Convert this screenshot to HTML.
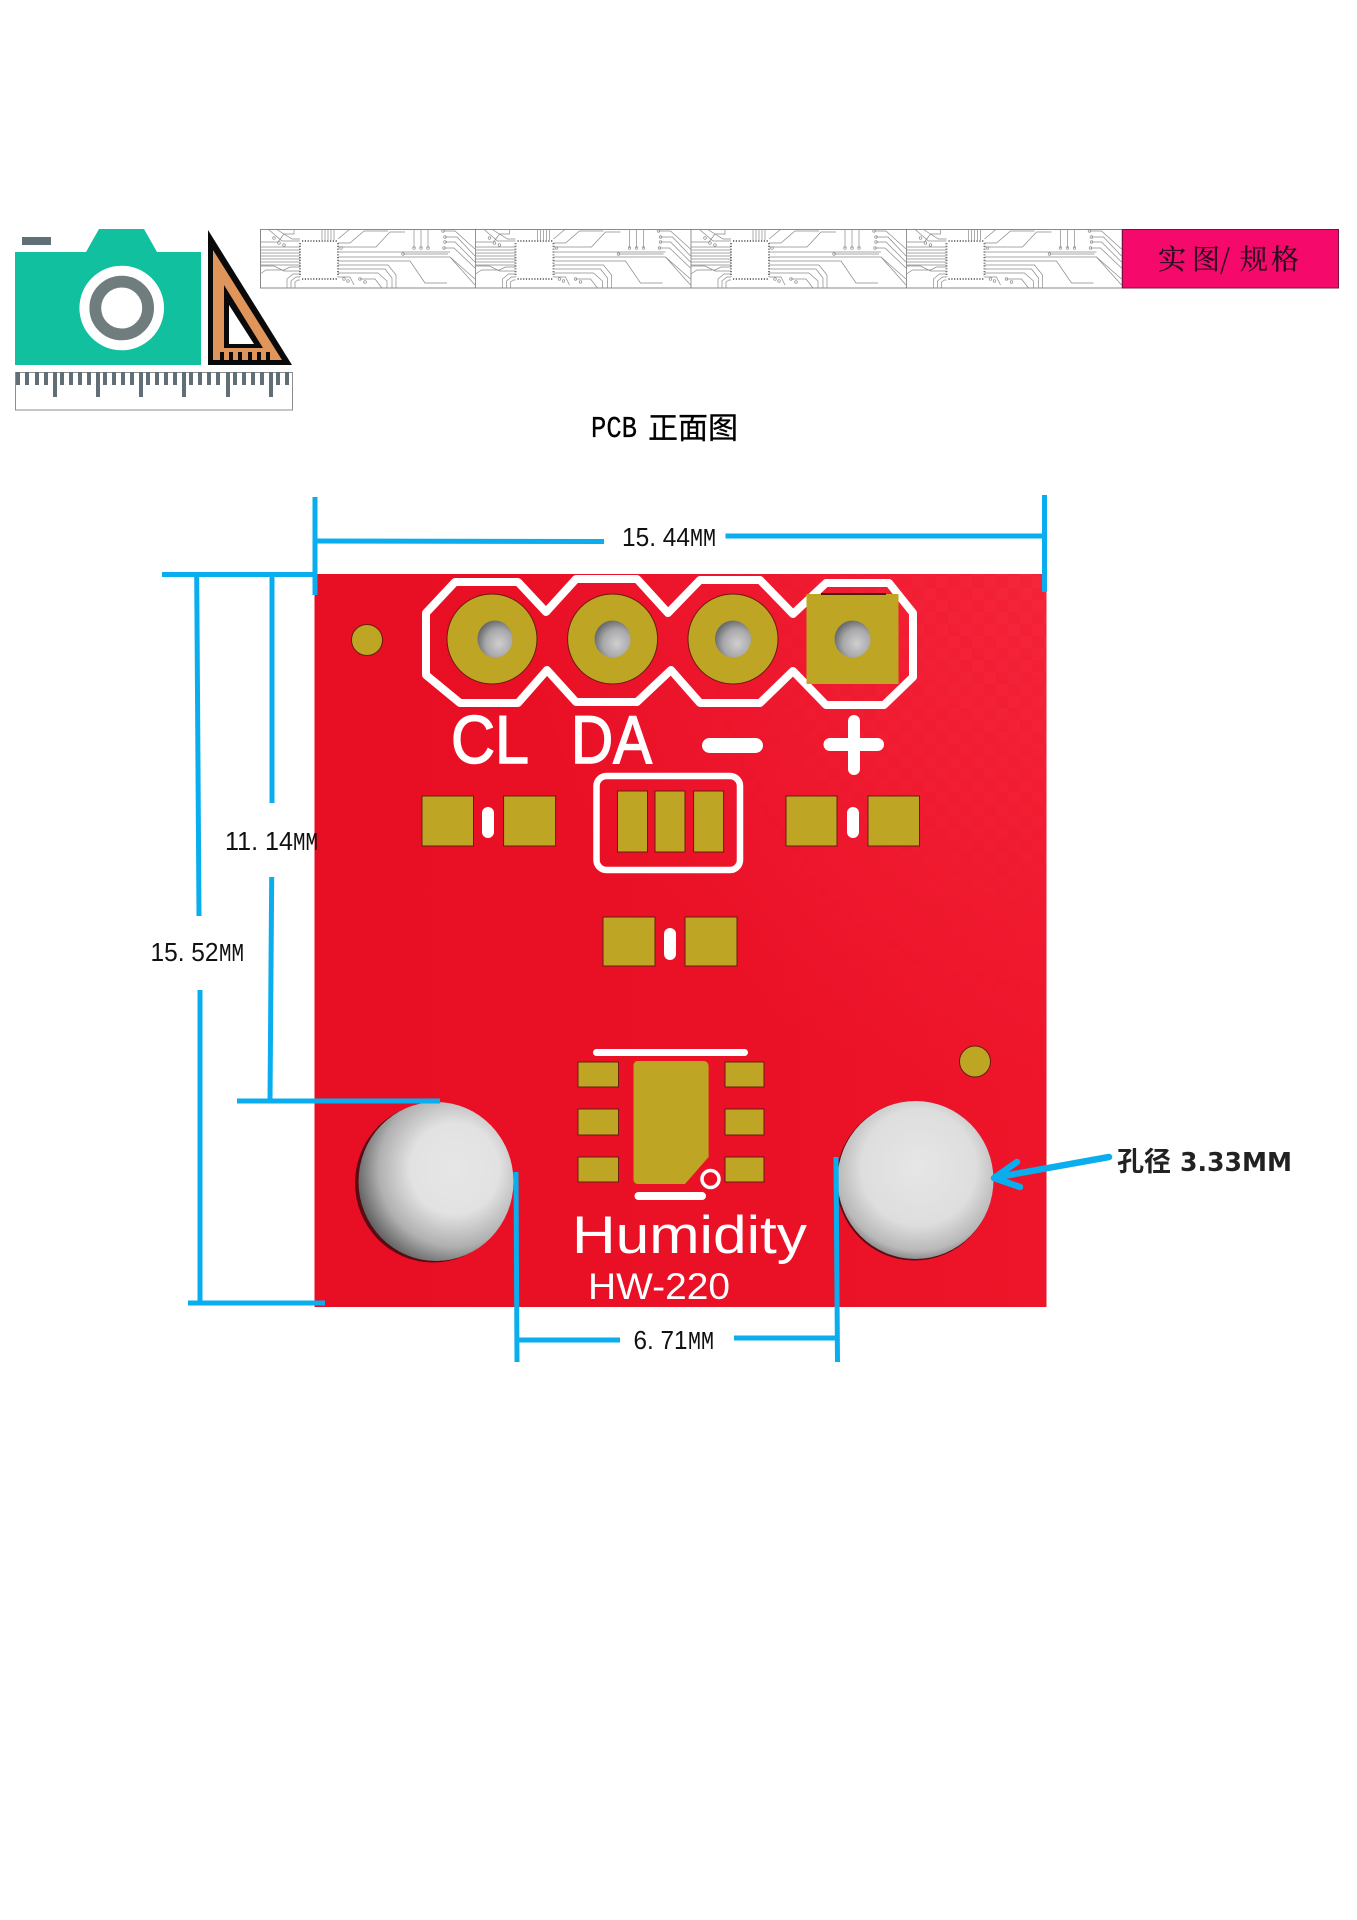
<!DOCTYPE html>
<html><head><meta charset="utf-8"><style>
html,body{margin:0;padding:0;background:#fff}
svg{display:block}
text{white-space:pre}
.dim{font-family:"Liberation Sans","Noto Sans CJK SC",sans-serif;font-size:26px;fill:#111}
.mm{font-family:"Liberation Mono",monospace;font-size:26px;fill:#111}
.silk{font-family:"Liberation Sans",sans-serif;fill:#fff}
</style></head><body>
<svg xmlns="http://www.w3.org/2000/svg" width="1357" height="1920" viewBox="0 0 1357 1920">
<defs>
<linearGradient id="pcb" x1="0" y1="0" x2="1" y2="0">
<stop offset="0" stop-color="#E80F24"/><stop offset=".6" stop-color="#EA1026"/><stop offset="1" stop-color="#EE1429"/>
</linearGradient>
<radialGradient id="glow" cx="1" cy="0" r=".75">
<stop offset="0" stop-color="#ff3a50" stop-opacity=".38"/><stop offset="1" stop-color="#ff3a50" stop-opacity="0"/>
</radialGradient>
<pattern id="chk" width="24" height="24" patternUnits="userSpaceOnUse">
<rect width="12" height="12" fill="#ff4458" opacity=".12"/><rect x="12" y="12" width="12" height="12" fill="#ff4458" opacity=".12"/>
</pattern>
<radialGradient id="fadeG" cx="1" cy="0" r=".95">
<stop offset="0" stop-color="#fff"/><stop offset=".6" stop-color="#888"/><stop offset="1" stop-color="#000"/>
</radialGradient>
<mask id="fade" maskUnits="userSpaceOnUse" x="680" y="574" width="367" height="450"><rect x="680" y="574" width="367" height="450" fill="url(#fadeG)"/></mask>
<radialGradient id="hole" cx=".62" cy=".42" r=".68">
<stop offset="0" stop-color="#e6e6e6"/><stop offset=".42" stop-color="#e2e2e2"/><stop offset=".72" stop-color="#b0b0b0"/><stop offset="1" stop-color="#4e4e4e"/>
</radialGradient>
<radialGradient id="hole2" cx=".52" cy=".42" r=".63">
<stop offset="0" stop-color="#e6e6e6"/><stop offset=".58" stop-color="#dedede"/><stop offset=".84" stop-color="#b8b8b8"/><stop offset="1" stop-color="#666"/>
</radialGradient>
<radialGradient id="drill" cx=".62" cy=".62" r=".65">
<stop offset="0" stop-color="#cfcfcf"/><stop offset=".6" stop-color="#a8a8aa"/><stop offset="1" stop-color="#66686a"/>
</radialGradient>
<g id="tile" fill="none" stroke="#8a8a8a" stroke-width=".7">
<path d="M0 18H40M0 21H40M0 24H40M0 27H40M0 30H40M0 33H40M0 36H40M0 13H18L24 5H34V0M8 0L22 12H40M16 0L32 10H40M0 37H14L24 42H40M0 45L6 41H24L30 38H40"/>
<path d="M27 59V50L33 45H40M31 59V52L36 48H40M35 59V53L38 51H40M62 0V11M65 0V11M68 0V11M71 0V11M74 0V11"/>
<path d="M78 18H116L130 3H145M78 14H90L104 2H128M78 10L90 0M78 23H190M78 28H190L215 56M78 32H150L165 54H187M78 36H128L136 46V59M78 40H125L132 49V59M78 44H118L127 52V59M78 48H90L94 56M100 50H115L122 59"/>
<path d="M154 0V19M161 0V19M168 0V19M143 25H188M183 2H195L215 20M185 8H197L215 27M185 13H195L215 33M184 19H194L215 39M190 28L215 50"/>
<path d="M215.500 0V59" stroke="#666"/>
<path d="M42 12h36M42 50h36M40 14v34M78 14v34" stroke="#777" stroke-width="2" stroke-dasharray="1.200 1.600"/>
<circle cx="14" cy="9" r="1.300"/><circle cx="19" cy="14" r="1.300"/><circle cx="24" cy="16" r="1.300"/><circle cx="154" cy="19" r="1.300"/><circle cx="161" cy="19" r="1.300"/><circle cx="168" cy="19" r="1.300"/><circle cx="143" cy="25" r="1.300"/><circle cx="183" cy="2" r="1.300"/><circle cx="185" cy="8" r="1.300"/><circle cx="185" cy="13" r="1.300"/><circle cx="184" cy="19" r="1.300"/><circle cx="81" cy="19" r="1.300"/><circle cx="84" cy="50" r="1.300"/><circle cx="88" cy="52" r="1.300"/><circle cx="100" cy="50" r="1.300"/><circle cx="105" cy="53" r="1.300"/>
</g>
</defs>

<!-- camera -->
<rect x="22" y="237" width="29" height="8" fill="#5F7077"/>
<path d="M15 252H86L99 229H144L157 252H201V365H15Z" fill="#10C09E"/>
<circle cx="121.700" cy="308" r="42.300" fill="#fff"/>
<circle cx="121.700" cy="308" r="26.400" fill="none" stroke="#6F7D7E" stroke-width="11.800"/>

<!-- set square -->
<path d="M208 230L292 365H208Z" fill="#0a0a0a"/>
<path d="M213 250L282 360H213Z" fill="#E0965A"/>
<path d="M224 285L263 348H224Z" fill="#0a0a0a"/>
<path d="M229 305L254 344H229Z" fill="#fff"/>
<path d="M222 352V361M231 352V361M240 352V361M250 352V361M259 352V361M268 352V361" stroke="#0a0a0a" stroke-width="4"/>

<!-- ruler -->
<rect x="15.500" y="372.500" width="277" height="37.500" fill="#fff" stroke="#8c8c8c"/>
<path d="M18 372V385M27 372V385M37 372V385M46 372V385M62 372V385M71 372V385M80 372V385M89 372V385M105 372V385M114 372V385M123 372V385M132 372V385M148 372V385M157 372V385M166 372V385M175 372V385M191 372V385M200 372V385M209 372V385M218 372V385M235 372V385M244 372V385M253 372V385M262 372V385M278 372V385M287 372V385" stroke="#5f6f75" stroke-width="4"/>
<path d="M55 372V397M98 372V397M141 372V397M184 372V397M228 372V397M271 372V397" stroke="#5f6f75" stroke-width="4"/>

<!-- circuit strip -->
<rect x="260.500" y="229.500" width="862" height="58.500" fill="#fff" stroke="#8a8a8a"/>
<use href="#tile" x="260" y="229"/><use href="#tile" x="475.500" y="229"/><use href="#tile" x="691" y="229"/><use href="#tile" x="906.500" y="229"/>
<rect x="1122.500" y="229.500" width="216" height="58.500" fill="#F5096B" stroke="#7a1040"/>
<text y="269" x="1158 1192 1220 1240 1271" font-family="'Noto Serif CJK SC','Liberation Serif',serif" font-size="28" fill="#2c0a22" stroke="#2c0a22" stroke-width=".3">实图/规格</text>

<!-- title -->
<text x="591" y="437" font-family="'Liberation Mono',monospace" font-size="31" fill="#000" stroke="#000" stroke-width=".3" textLength="46" lengthAdjust="spacingAndGlyphs">PCB</text>
<text x="648" y="438.500" font-family="'Liberation Sans','Noto Sans CJK SC',sans-serif" font-size="30" fill="#000" stroke="#000" stroke-width=".3">正面图</text>

<!-- PCB -->
<rect x="314.500" y="574" width="732" height="733" fill="url(#pcb)"/>
<rect x="314.500" y="574" width="732" height="733" fill="url(#glow)"/>
<rect x="680" y="574" width="366.500" height="450" fill="url(#chk)" mask="url(#fade)"/>

<path d="M426 613L455 582H518L546 612L576 579H637L668 613L700 580H760L793 614L826 583H889L913 613V677L884 705H826L793 671L760 703H700L671 670L637 702H576L547 670L518 703H460L426 675Z" fill="none" stroke="#fff" stroke-width="8" stroke-linejoin="round"/>

<g fill="#BFA524" stroke="#6a1a10" stroke-width="1">
<circle cx="492" cy="639" r="45"/><circle cx="612.600" cy="639" r="45"/><circle cx="733" cy="639" r="45"/>
<rect x="806.500" y="594" width="92" height="90" stroke="none"/>
<circle cx="367" cy="640" r="15.500"/><circle cx="975" cy="1061.500" r="15.500"/>
<rect x="422" y="796" width="51.500" height="50"/><rect x="503.600" y="796" width="52" height="50"/>
<rect x="786" y="796" width="51" height="50"/><rect x="868" y="796" width="51.500" height="50"/>
<rect x="617.500" y="791" width="30" height="61"/><rect x="655" y="791" width="30" height="61"/><rect x="693.600" y="791" width="30" height="61"/>
<rect x="603" y="917" width="52" height="49"/><rect x="685" y="917" width="52" height="49"/>
<rect x="578" y="1062" width="40.500" height="25"/><rect x="578" y="1109" width="40.500" height="26"/><rect x="578" y="1157" width="40.500" height="25"/>
<rect x="725" y="1062" width="39" height="25"/><rect x="725" y="1109" width="39" height="26"/><rect x="725" y="1157" width="39" height="25"/>
</g>
<path d="M821 594H886" stroke="#4a1a10" stroke-width="2"/>
<path d="M638 1061H703Q708.600 1061 708.600 1067V1157L685 1184H638Q633.500 1184 633.500 1179V1066Q633.500 1061 638 1061Z" fill="#BFA524"/>

<g fill="url(#drill)">
<ellipse cx="495" cy="639" rx="17.500" ry="18.500"/><ellipse cx="612.600" cy="639" rx="18" ry="18.500"/><ellipse cx="733" cy="639" rx="18" ry="18.500"/><ellipse cx="852.600" cy="639" rx="18" ry="18.500"/>
</g>

<!-- silk text & marks -->
<text class="silk" x="451" y="763" font-size="68" stroke="#fff" stroke-width="1.500" textLength="78" lengthAdjust="spacingAndGlyphs">CL</text>
<text class="silk" x="571" y="763" font-size="68" stroke="#fff" stroke-width="1.500" textLength="81" lengthAdjust="spacingAndGlyphs">DA</text>
<rect x="702" y="738" width="61" height="15" rx="7.500" fill="#fff"/>
<rect x="823.500" y="738" width="60.500" height="13" rx="6.500" fill="#fff"/>
<rect x="848" y="715" width="12" height="60" rx="6" fill="#fff"/>
<rect x="482" y="807" width="12" height="31" rx="6" fill="#fff"/>
<rect x="847" y="807" width="12" height="31" rx="6" fill="#fff"/>
<rect x="664" y="928" width="12" height="32" rx="6" fill="#fff"/>
<rect x="596.500" y="776" width="143.500" height="94" rx="10" fill="none" stroke="#fff" stroke-width="6.500"/>
<rect x="593" y="1049" width="155" height="7" rx="3.500" fill="#fff"/>
<rect x="634.500" y="1192" width="71.500" height="8" rx="4" fill="#fff"/>
<circle cx="710.500" cy="1179" r="8.500" fill="none" stroke="#fff" stroke-width="3.500"/>
<text class="silk" x="572" y="1253" font-size="53" textLength="235" lengthAdjust="spacingAndGlyphs">Humidity</text>
<text class="silk" x="588" y="1299" font-size="37" textLength="142" lengthAdjust="spacingAndGlyphs">HW-220</text>

<!-- mounting holes -->
<ellipse cx="433" cy="1183" rx="78" ry="79.500" fill="#5a0a12"/>
<ellipse cx="436" cy="1181.500" rx="77.500" ry="79.500" fill="url(#hole)"/>
<ellipse cx="914.500" cy="1181" rx="78.500" ry="79.500" fill="#5a0a12"/>
<ellipse cx="915.500" cy="1180" rx="78" ry="79" fill="url(#hole2)"/>

<!-- dimension lines -->
<g fill="none" stroke="#0AAEEE" stroke-width="5">
<path d="M315 497V595M1044.500 495V592"/>
<path d="M315 541L604 541.500M725.500 536H1044"/>
<path d="M162 574.500H314"/>
<path d="M196.700 575L199 916M200 990V1303M188 1303H325"/>
<path d="M272 575V803M271.700 877L270 1101M237 1101H440"/>
<path d="M516 1172L517 1362M836 1157L837.500 1362"/>
<path d="M517 1340H620M734 1338H836"/>
</g>
<g fill="none" stroke="#0AAEEE" stroke-width="6.500" stroke-linecap="round" stroke-linejoin="round">
<path d="M1109 1157L998 1177"/>
<path d="M1017 1162L994 1178L1020 1187"/>
</g>

<!-- dimension labels -->
<text class="dim" x="622" y="546" textLength="68" lengthAdjust="spacingAndGlyphs">15. 44</text><text class="mm" x="690" y="546" textLength="26" lengthAdjust="spacingAndGlyphs">MM</text>
<text class="dim" x="633.500" y="1349" textLength="54" lengthAdjust="spacingAndGlyphs">6. 71</text><text class="mm" x="688" y="1349" textLength="26" lengthAdjust="spacingAndGlyphs">MM</text>
<text class="dim" x="150.500" y="961" textLength="68" lengthAdjust="spacingAndGlyphs">15. 52</text><text class="mm" x="219" y="961" textLength="25" lengthAdjust="spacingAndGlyphs">MM</text>
<text class="dim" x="225" y="850" textLength="68" lengthAdjust="spacingAndGlyphs">11. 14</text><text class="mm" x="293" y="850" textLength="25" lengthAdjust="spacingAndGlyphs">MM</text>
<text x="1117" y="1171" font-family="'Liberation Sans','Noto Sans CJK SC',sans-serif" font-weight="700" font-size="27" fill="#222">孔径</text>
<text x="1180" y="1171" font-family="'DejaVu Sans',sans-serif" font-weight="700" font-size="26" fill="#222" textLength="112" lengthAdjust="spacingAndGlyphs">3.33MM</text>
</svg>
</body></html>
